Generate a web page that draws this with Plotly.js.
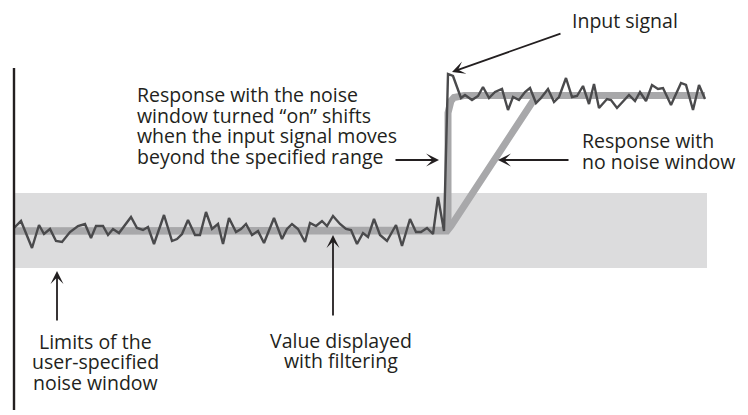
<!DOCTYPE html>
<html>
<head>
<meta charset="utf-8">
<script src="https://cdn.plot.ly/plotly-3.0.1.min.js"></script>
<style>html,body{margin:0;padding:0;background:#fff;}#chart{width:748px;height:415px;}</style>
</head>
<body>
<div id="chart"></div>
<script>
// Time axis (samples) and signal level (arbitrary units; 0 = initial level)
const inputTime = [0,7,18,25,30,36,42,48,56,64,71,77,82,89,94,99,105,111,117,123,129,134,140,150,158,163,168,174,181,186,192,198,204,209,215,222,227,232,238,244,250,260,268,273,278,284,291,296,302,308,313,319,326,332,337,343,349,354,360,366,373,382,388,396,402,407,413,419,424,430,434,439,447,451,458,464,469,475,481,488,494,499,505,511,516,522,527,534,540,545,552,558,563,569,575,580,585,593,597,603,609,615,621,626,632,638,644,649,657,667,672,679,685,691];
const inputSignal = [3,10,-17,6,-3,2,-10,-11,-1,5,7,-7,5,5,-4,2,-2,6,14,3,1,4,-13,16,-10,-8,-3,11,-4,-4,19,2,7,-13,13,-1,2,7,-4,0,-12,13,-8,2,7,2,-11,8,5,10,5,15,7,2,1,-13,-2,-6,12,-4,-10,6,-15,12,-1,-1,3,-3,34,0,157,155,133,136,131,135,144,133,139,142,121,134,131,139,143,128,133,142,129,134,153,134,135,145,127,147,123,132,131,123,129,136,130,139,130,146,142,143,126,148,146,121,146,132];

const windowTime = [0,425,429,432,434,434,435,437,440,444,450,691];
const windowResponse = [0,0,1,4,10,118,125,130,133.5,135,135.5,135.5];

const noWindowTime = [0,433,437,518,522,528,540];
const noWindowResponse = [0,0,5,131,134.5,135.5,135.5];

const noiseWindowStart = 0, noiseWindowEnd = 693;
const noiseWindowUpper = 38, noiseWindowLower = -37;

const labelBlocks = {
  response: ["Response with the noise", "window turned \u201Con\u201D shifts", "when the input signal moves", "beyond the specified range"],
  noWindow: ["Response with", "no noise window"],
  limits: ["Limits of the", "user-specified", "noise window"],
  value: ["Value displayed", "with filtering"],
  input: ["Input signal"]
};

const W = 748, H = 415;
const px = x => x / W;
const py = y => 1 - y / H;
const FONT = {family: "Open Sans, sans-serif", size: 19.5, color: "#231f20"};
const INK = "#231f20";

const traces = [
  {x: [noiseWindowStart, noiseWindowEnd, noiseWindowEnd, noiseWindowStart],
   y: [noiseWindowUpper, noiseWindowUpper, noiseWindowLower, noiseWindowLower],
   fill: "toself", fillcolor: "#dcdcdd", mode: "lines", line: {width: 0}, hoverinfo: "skip"},
  {x: noWindowTime, y: noWindowResponse, mode: "lines",
   line: {color: "#a8a8aa", width: 7}, hoverinfo: "skip"},
  {x: windowTime, y: windowResponse, mode: "lines",
   line: {color: "#a8a8aa", width: 7}, hoverinfo: "skip"},
  {x: inputTime, y: inputSignal, mode: "lines",
   line: {color: "#4a4a4c", width: 2.4}, hoverinfo: "skip"}
];

const annotations = [];
function textLines(lines, x, yCenters, xanchor) {
  lines.forEach((s, i) => annotations.push({
    xref: "paper", yref: "paper", x: px(x), y: py(yCenters[i]),
    text: s, showarrow: false, xanchor: xanchor, yanchor: "middle", font: FONT
  }));
}
function arrow(x1, y1, x2, y2) {
  annotations.push({
    xref: "paper", yref: "paper", x: px(x2), y: py(y2),
    axref: "pixel", ayref: "pixel", ax: x1 - x2, ay: y1 - y2,
    text: "", showarrow: true, arrowhead: 3, arrowsize: 1.2, arrowwidth: 1.8,
    arrowcolor: INK, standoff: 0, startstandoff: 0
  });
}
textLines(labelBlocks.response, 135, [95, 115, 135, 156], "left");
textLines(labelBlocks.noWindow, 580, [140, 161], "left");
textLines(labelBlocks.limits, 95, [341, 361, 382], "center");
textLines(labelBlocks.value, 341, [340, 360], "center");
textLines(labelBlocks.input, 625, [20], "center");

arrow(562, 33, 452, 72);
arrow(394, 160, 439, 160);
arrow(570, 160, 498, 160);
arrow(57, 322, 57, 271);
arrow(333, 317, 333, 235);

const layout = {
  width: W, height: H,
  margin: {l: 0, r: 0, t: 0, b: 0},
  paper_bgcolor: "#ffffff", plot_bgcolor: "#ffffff",
  showlegend: false,
  xaxis: {range: [-14, 734], visible: false, fixedrange: true},
  yaxis: {range: [-184, 231], visible: false, fixedrange: true},
  shapes: [{type: "line", xref: "paper", yref: "paper",
            x0: px(14), x1: px(14), y0: py(68), y1: py(410),
            line: {color: INK, width: 2.4}}],
  annotations: annotations
};

Plotly.newPlot("chart", traces, layout, {displayModeBar: false, staticPlot: true});
</script>
</body>
</html>
